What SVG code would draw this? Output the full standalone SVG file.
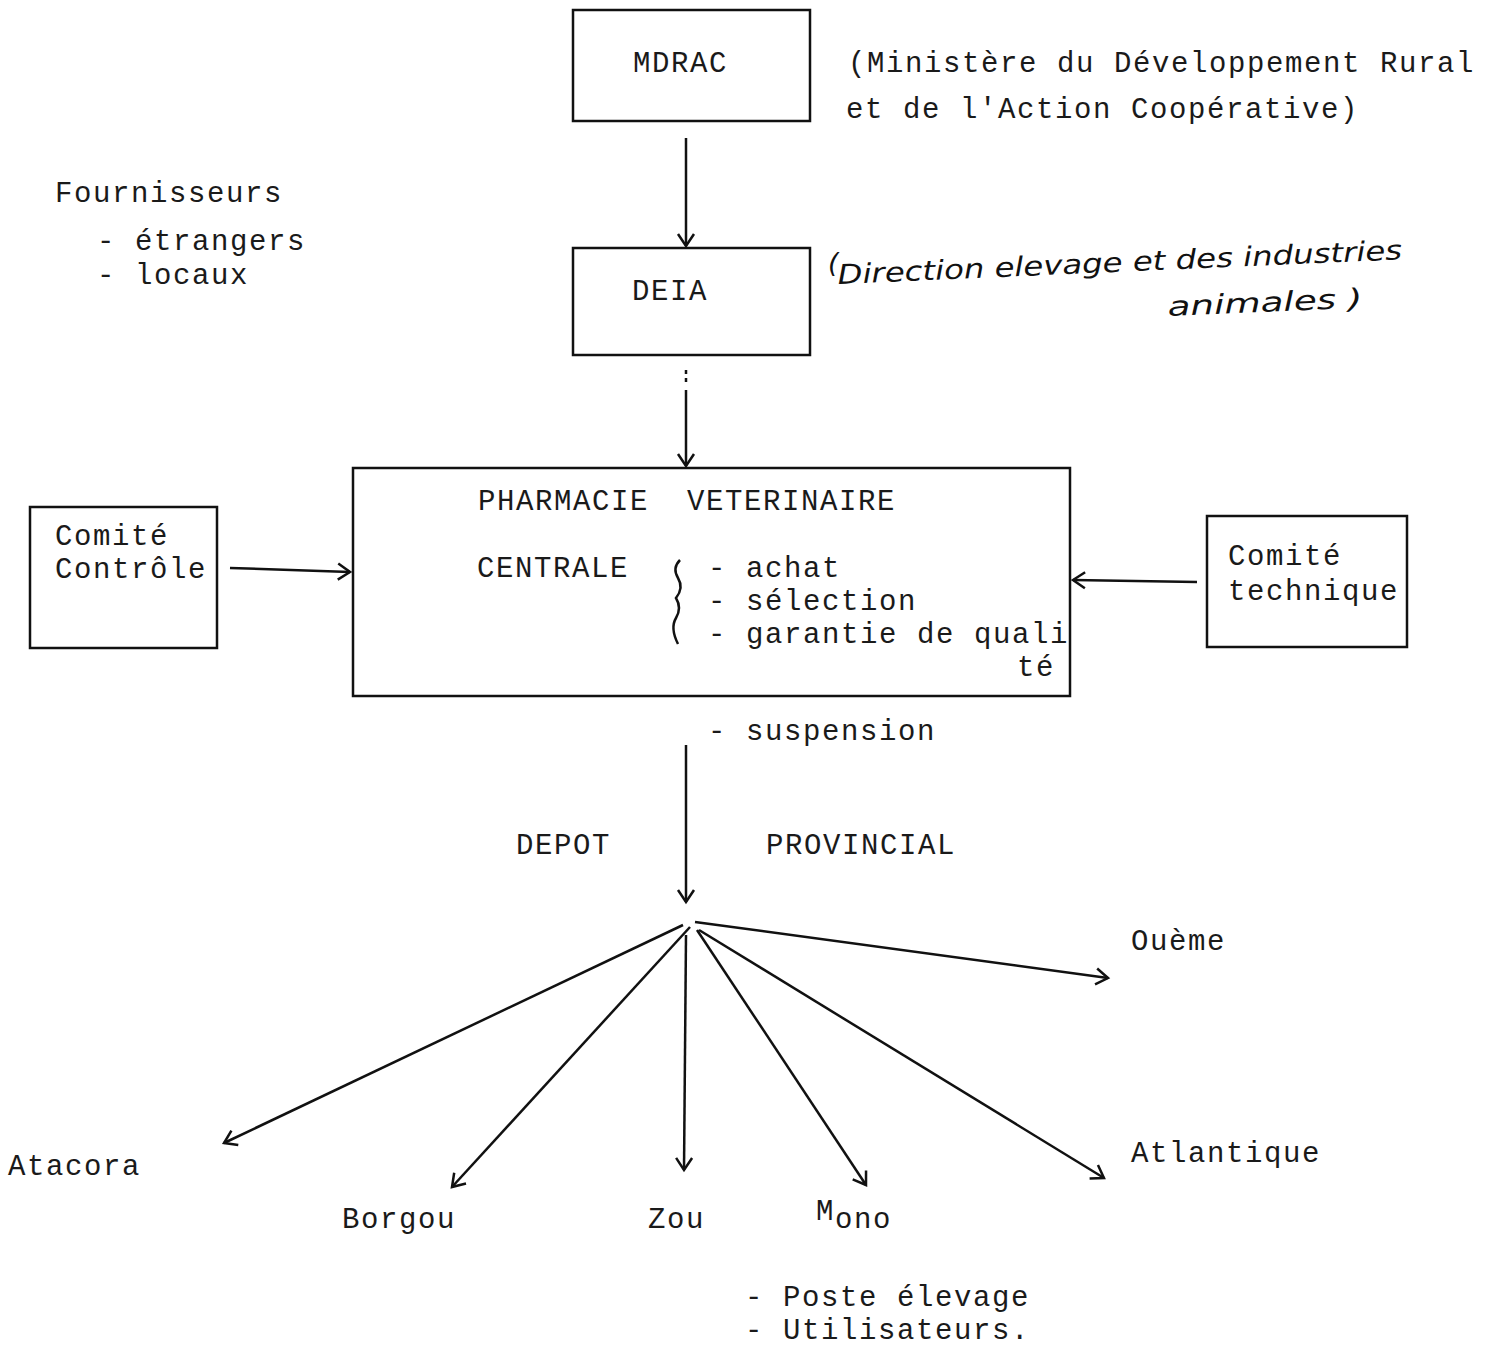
<svg xmlns="http://www.w3.org/2000/svg" width="1499" height="1347" viewBox="0 0 1499 1347">
<style>
.t{font-family:"Liberation Mono","DejaVu Sans Mono",monospace;font-size:29px;letter-spacing:1.6px;fill:#1a1a1a}
.h{font-family:"DejaVu Sans","Liberation Sans",sans-serif;font-style:italic;font-size:27px;fill:#111}
.box{fill:none;stroke:#111;stroke-width:2.5}
.c{fill:none;stroke:#111;stroke-width:2.5}
</style>
<defs>
<marker id="a" markerWidth="24" markerHeight="24" refX="20" refY="12" orient="auto" markerUnits="userSpaceOnUse">
<polyline points="8,4 20,12 8,20" fill="none" stroke="#111" stroke-width="2.5"/>
</marker>
</defs>
<rect width="1499" height="1347" fill="#fff"/>

<g id="mdrac">
<rect class="box" x="573" y="10" width="237" height="111"/>
<text class="t" x="633" y="72">MDRAC</text>
</g>
<g id="mdrac-note">
<text class="t" x="848" y="72">(Ministère du Développement Rural</text>
<text class="t" x="846" y="118">et de l'Action Coopérative)</text>
</g>

<g id="deia">
<rect class="box" x="573" y="248" width="237" height="107"/>
<text class="t" x="632" y="300">DEIA</text>
</g>
<g id="deia-note">
<text class="h" x="828" y="272" font-size="16px">(</text>
<text class="h" transform="rotate(-2.5 838 284)" x="838" y="284" textLength="565" lengthAdjust="spacingAndGlyphs">Direction elevage et des industries</text>
<text class="h" transform="rotate(-2.5 1168 316)" x="1168" y="316" textLength="195" lengthAdjust="spacingAndGlyphs">animales )</text>
</g>

<g id="fournisseurs">
<text class="t" x="55" y="202">Fournisseurs</text>
<text class="t" x="97" y="250">- étrangers</text>
<text class="t" x="97" y="284">- locaux</text>
</g>

<g id="pharmacie">
<rect class="box" x="353" y="468" width="717" height="228"/>
<text class="t" x="478" y="510" xml:space="preserve">PHARMACIE  VETERINAIRE</text>
<text class="t" x="477" y="577">CENTRALE</text>
<path class="c" stroke-width="2" d="M680,560 q-8,8 -2,18 q6,10 -2,20 q6,10 0,20 q-6,10 2,26"/>
<text class="t" x="708" y="577">- achat</text>
<text class="t" x="708" y="610">- sélection</text>
<text class="t" x="708" y="643">- garantie de quali</text>
<text class="t" x="1017" y="676">té</text>
</g>
<g id="suspension">
<text class="t" x="708" y="740">- suspension</text>
</g>

<g id="comite-controle">
<rect class="box" x="30" y="507" width="187" height="141"/>
<text class="t" x="55" y="545">Comité</text>
<text class="t" x="55" y="578">Contrôle</text>
</g>

<g id="comite-technique">
<rect class="box" x="1207" y="516" width="200" height="131"/>
<text class="t" x="1228" y="565">Comité</text>
<text class="t" x="1228" y="600">technique</text>
</g>

<g id="depot">
<text class="t" x="516" y="854">DEPOT</text>
<text class="t" x="766" y="854">PROVINCIAL</text>
</g>

<g id="provinces">
<text class="t" x="1131" y="950">Ouème</text>
<text class="t" x="8" y="1175">Atacora</text>
<text class="t" x="342" y="1228">Borgou</text>
<text class="t" x="648" y="1228">Zou</text>
<text class="t" x="816" y="1220" font-size="24px">M</text>
<text class="t" x="835" y="1228">ono</text>
<text class="t" x="1131" y="1162">Atlantique</text>
</g>

<g id="bottom-notes">
<text class="t" x="745" y="1306">- Poste élevage</text>
<text class="t" x="745" y="1339">- Utilisateurs.</text>
</g>

<g id="connectors">
<line class="c" x1="686" y1="138" x2="686" y2="246" marker-end="url(#a)"/>
<line class="c" x1="686" y1="370" x2="686" y2="385" stroke-dasharray="4,4"/>
<line class="c" x1="686" y1="390" x2="686" y2="466" marker-end="url(#a)"/>
<line class="c" x1="230" y1="568" x2="350" y2="572" marker-end="url(#a)"/>
<line class="c" x1="1197" y1="582" x2="1073" y2="580" marker-end="url(#a)"/>
<line class="c" x1="686" y1="745" x2="686" y2="902" marker-end="url(#a)"/>
<line class="c" x1="695" y1="922" x2="1108" y2="978" marker-end="url(#a)"/>
<line class="c" x1="683" y1="925" x2="224" y2="1143" marker-end="url(#a)"/>
<line class="c" x1="690" y1="927" x2="452" y2="1187" marker-end="url(#a)"/>
<line class="c" x1="686" y1="935" x2="684" y2="1170" marker-end="url(#a)"/>
<line class="c" stroke-width="2" x1="697" y1="930" x2="866" y2="1185" marker-end="url(#a)"/>
<line class="c" x1="699" y1="930" x2="1104" y2="1178" marker-end="url(#a)"/>
</g>
</svg>
